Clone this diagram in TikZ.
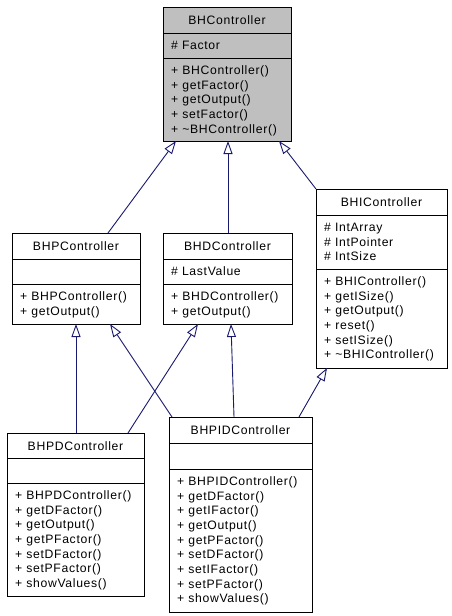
\documentclass[tikz,border=0pt]{standalone}
\usepackage{fontspec}
\setmainfont{Liberation Sans}[LetterSpace=5.5]
\usetikzlibrary{arrows.meta,calc}
\definecolor{edgeblue}{HTML}{191970}
\definecolor{boxgray}{HTML}{BFBFBF}
\tikzset{
  classbox/.style={draw=black,line width=1pt,fill=white,inner sep=0pt,outer sep=0pt,anchor=north west},
  boxline/.style={draw=black,line width=1pt},
  titletext/.style={anchor=base,inner sep=0pt,font=\fontsize{12.2}{14.7}\selectfont},
  membertext/.style={anchor=base west,inner sep=0pt,font=\fontsize{12.2}{14.7}\selectfont},
  inherit/.style={draw=edgeblue,line width=0.9pt,-{Triangle[length=13pt,width=9pt,fill=white,line width=0.9pt]}}
}
\newcommand{\umlclass}[8]{%
  \node[classbox,#6,minimum width=#4pt,minimum height=#5pt] (#1) at (#2,#3) {};
  \draw[boxline] ([yshift=-#7pt]#1.north west) -- ([yshift=-#7pt]#1.north east);
  \draw[boxline] ([yshift=-#8pt]#1.north west) -- ([yshift=-#8pt]#1.north east);
}
\newcommand{\members}[4]{%
  \foreach \t [count=\i] in {#4}
    \node[membertext] (#1\i) at ({#2+8},{#3+16.3+(\i-1)*14.7}) {\t};
}
\begin{document}
\begin{tikzpicture}[x=1pt,y=-1pt]
\useasboundingbox[fill=white] (0,0) rectangle (451,616);

% BHController
\umlclass{bhc}{163}{7}{128}{134}{fill=boxgray}{26}{51}
\node[titletext] (bhc-title) at ([yshift=-17pt]bhc.north) {BHController};
\members{bhc-a}{163}{33}{\# Factor}
\members{bhc-m}{163}{58}{+ BHController(),+ getFactor(),+ getOutput(),+ setFactor(),+ \textasciitilde BHController()}

% BHPController
\umlclass{bhp}{12}{233}{128}{91}{}{26}{51}
\node[titletext] (bhp-title) at ([yshift=-17pt]bhp.north) {BHPController};
\members{bhp-m}{12}{284}{+ BHPController(),+ getOutput()}

% BHDController
\umlclass{bhd}{163}{233}{129}{91}{}{26}{51}
\node[titletext] (bhd-title) at ([yshift=-17pt]bhd.north) {BHDController};
\members{bhd-a}{163}{259}{\# LastValue}
\members{bhd-m}{163}{284}{+ BHDController(),+ getOutput()}

% BHIController
\umlclass{bhi}{316}{189}{131}{179}{}{26}{80}
\node[titletext] (bhi-title) at ([yshift=-17pt]bhi.north) {BHIController};
\members{bhi-a}{316}{215}{\# IntArray,\# IntPointer,\# IntSize}
\members{bhi-m}{316}{269}{+ BHIController(),+ getISize(),+ getOutput(),+ reset(),+ setISize(),+ \textasciitilde BHIController()}

% BHPDController
\umlclass{bhpd}{7}{433}{137}{163}{}{25}{50}
\node[titletext] (bhpd-title) at ([yshift=-17pt]bhpd.north) {BHPDController};
\members{bhpd-m}{7}{483}{+ BHPDController(),+ getDFactor(),+ getOutput(),+ getPFactor(),+ setDFactor(),+ setPFactor(),+ showValues()}

% BHPIDController
\umlclass{bhpid}{169}{417}{143}{195}{}{26}{52}
\node[titletext] (bhpid-title) at ([yshift=-17pt]bhpid.north) {BHPIDController};
\members{bhpid-m}{169}{469}{+ BHPIDController(),+ getDFactor(),+ getIFactor(),+ getOutput(),+ getPFactor(),+ setDFactor(),+ setIFactor(),+ setPFactor(),+ showValues()}

% inheritance connectors
\draw[inherit] ($(bhp.north west)+(96,0)$) -- ($(bhc.south west)+(13,0)$);
\draw[inherit] ($(bhd.north west)+(65,0)$) -- ($(bhc.south west)+(65,0)$);
\draw[inherit] (bhi.north west) -- ($(bhc.south west)+(116,0)$);
\draw[inherit] ($(bhpd.north west)+(69,0)$) -- ($(bhp.south west)+(64,0)$);
\draw[inherit] ($(bhpid.north west)+(3,0)$) -- ($(bhp.south west)+(98,0)$);
\draw[inherit] ($(bhpd.north west)+(121,0)$) -- ($(bhd.south west)+(35,0)$);
\draw[inherit] ($(bhpid.north west)+(65,0)$) -- ($(bhd.south west)+(68,0)$);
\draw[inherit] ($(bhpid.north west)+(130,0)$) -- ($(bhi.south west)+(11,0)$);
\end{tikzpicture}
\end{document}
